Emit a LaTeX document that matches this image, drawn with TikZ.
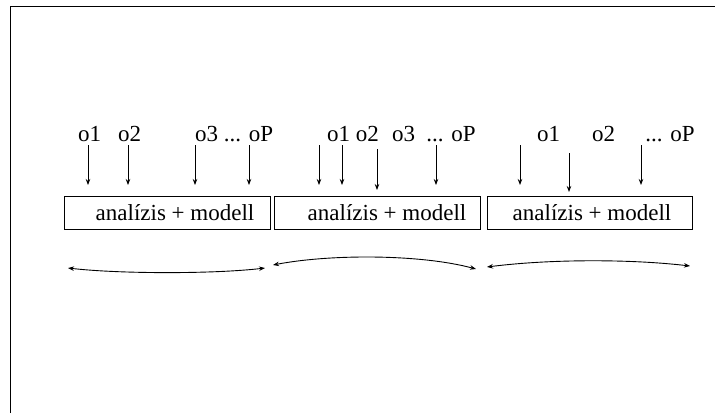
\documentclass[tikz,border=0pt]{standalone}
\usepackage{fontspec}
\setmainfont{Liberation Serif}
\usetikzlibrary{arrows.meta}
\begin{document}
\begin{tikzpicture}[x=1pt,y=-1pt,
  boxstyle/.style={draw,line width=0.9pt,minimum width=206pt,minimum height=33pt,inner sep=0pt},
  boxtext/.style={font=\fontsize{23}{26}\selectfont,inner sep=0pt},
  lbl/.style={font=\fontsize{23}{26}\selectfont,inner sep=0pt,anchor=base west},
  lblc/.style={font=\fontsize{23}{26}\selectfont,inner sep=0pt,anchor=base},
  inarrow/.style={line width=0.8pt,-{Stealth[length=6pt,width=4.5pt]}},
  link/.style={line width=0.9pt,{Stealth[length=6pt,width=4.5pt]}-{Stealth[length=6pt,width=4.5pt]}}]
\useasboundingbox (0,0) rectangle (715,413);
% frame
\draw[line width=1.5pt] (10.7,413) -- (10.7,6.7) -- (715,6.7);
% boxes
\node[boxstyle] (b1) at (167,212.5) {};
\node[boxstyle] (b2) at (377,212.5) {};
\node[boxstyle,minimum width=205pt] (b3) at (589.5,212.5) {};
\node[boxtext] (t1) at (175,212.5) {analízis + modell};
\node[boxtext] (t2) at (387,212.5) {analízis + modell};
\node[boxtext] (t3) at (592,212.5) {analízis + modell};
% labels
\node[lbl] (l11) at (78,141) {o1};
\node[lbl] (l12) at (118,141) {o2};
\node[lbl] (l13) at (195,141) {o3 ... oP};
\node[lbl] (l21) at (327,141) {o1 o2};
\node[lbl] (l22) at (392,141) {o3};
\node[lblc] (l23) at (451,141) {... oP};
\node[lbl] (l31) at (537,141) {o1};
\node[lbl] (l32) at (592,141) {o2};
\node[lblc] (l33) at (670,141) {... oP};
% arrow coordinates
\foreach \n/\x/\ya/\yb in {a1/88/145/185, a2/128/145/185, a3/195/145/185, a4/249/145/185,
  c1/319/145/185, c2/342/145/185, c3/377/149/190, c4/436/145/185,
  d1/520/145/185, d2/569/153/192, d3/641/145/185}{
  \coordinate (\n s) at (\x,\ya);
  \coordinate (\n e) at (\x,\yb);
}
\foreach \n in {a1,a2,a3,a4,c1,c2,c3,c4,d1,d2,d3}{
  \draw[inarrow] (\n s) -- (\n e);
}
% links
\coordinate (p1) at (68,268);
\coordinate (p2) at (265,268);
\coordinate (q1) at (273,265);
\coordinate (q2) at (476,269);
\coordinate (r1) at (487,267);
\coordinate (r2) at (690,266);
\draw[link] (p1) .. controls (120,274) and (215,274) .. (p2);
\draw[link] (q1) .. controls (330,254) and (420,254) .. (q2);
\draw[link] (r1) .. controls (550,259) and (630,259) .. (r2);
\end{tikzpicture}
\end{document}
